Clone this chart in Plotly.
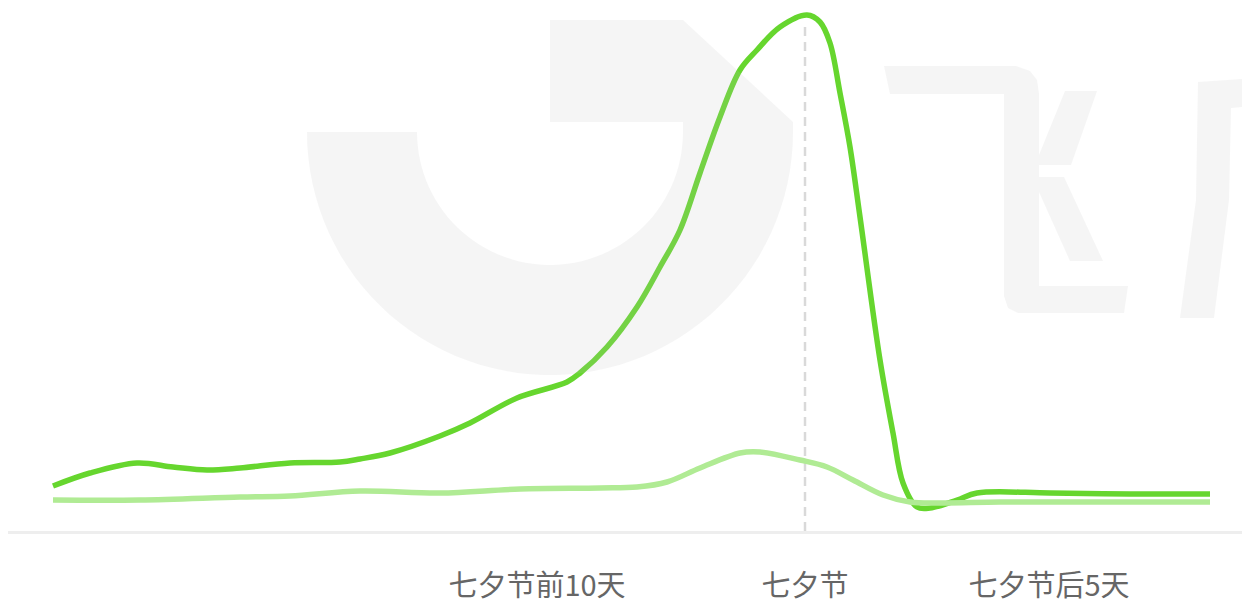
import numpy as np
import plotly.graph_objects as go

# ---- data (x: position along timeline, y: index value) ----
dark_x = [45, 82, 129, 165, 199, 232, 282, 332, 352, 382, 432, 462, 509, 559, 572, 599, 629, 652,
          672, 692, 712, 732, 749, 772, 799, 812, 822, 832, 842, 852, 872, 885, 895, 909, 922, 949,
          969, 1042, 1122, 1202]
dark_y = [45, 58, 68, 64, 61, 63, 68, 69, 72, 78, 95, 108, 133, 149, 158, 184, 224, 264,
          301, 358, 414, 461, 481, 504, 516, 509, 488, 438, 384, 314, 171, 98, 48, 24, 23, 31,
          38, 38, 37, 37]

light_x = [45, 132, 232, 282, 352, 432, 512, 592, 629, 659, 692, 732, 752, 792, 819, 845, 875,
           902, 932, 992, 1092, 1202]
light_y = [31, 31, 34, 35, 40, 38, 42, 43, 44, 49, 63, 78, 79, 71, 64, 51, 36,
           29, 28, 29, 29, 29]

tick_vals = [529, 797, 1041]
tick_text = ["七夕节前10天", "七夕节", "七夕节后5天"]
festival_x = 797

DARK = "#66d62e"
LIGHT = "#b0eb94"

fig = go.Figure()
fig.add_trace(go.Scatter(x=dark_x, y=dark_y, mode="lines",
                         line=dict(color=DARK, width=5.5, shape="spline", smoothing=1.0),
                         hoverinfo="skip", showlegend=False))
fig.add_trace(go.Scatter(x=light_x, y=light_y, mode="lines",
                         line=dict(color=LIGHT, width=5.5, shape="spline", smoothing=1.0),
                         hoverinfo="skip", showlegend=False))

# dashed festival marker
fig.add_shape(type="line", x0=festival_x, x1=festival_x, y0=0, y1=509, xref="x", yref="y",
              line=dict(color="#d9d9d9", width=2.5, dash="9px,6px"), layer="below")

# ---- watermark (decorative logo), in pixel-like coordinates ----
def P(xp, yp):
    return xp - 8, 531 - yp

def path_from(points):
    pts = [P(a, b) for a, b in points]
    return "M " + " L ".join(f"{a:.1f},{b:.1f}" for a, b in pts) + " Z"

WM = "rgba(190,190,190,0.16)"
cx, cy, ro, ri = 550, 132, 243, 133
ang = np.linspace(np.pi, 0, 60)
inner = [(cx + ri * np.cos(t), cy + ri * np.sin(t)) for t in ang]
outer = [(cx + ro * np.cos(t), cy + ro * np.sin(t)) for t in ang[::-1]]
ring = [(307, 132)] + inner + [(683, 122), (793, 122)] + outer
shapes_pts = [
    ring,
    [(550, 20), (683, 20), (793, 122), (550, 122)],
    [(884, 66), (1016, 66), (1030, 71), (1037, 80), (1039, 94), (1039, 286), (1128, 286),
     (1124, 313), (1018, 313), (1008, 308), (1004, 296), (1004, 94), (890, 94)],
    [(1065, 91), (1097, 91), (1071, 165), (1039, 165), (1039, 155)],
    [(1039, 177), (1064, 177), (1103, 261), (1070, 261), (1039, 192)],
    [(1198, 82), (1242, 79), (1242, 107), (1231, 108), (1229, 200), (1214, 318), (1180, 318),
     (1196, 200)],
]
for pts in shapes_pts:
    fig.add_shape(type="path", path=path_from(pts), xref="x", yref="y",
                  fillcolor=WM, line=dict(width=0), layer="above")

fig.update_layout(
    width=1242, height=600,
    margin=dict(l=8, r=0, t=10, b=69),
    paper_bgcolor="white", plot_bgcolor="white",
    font=dict(family="Noto Sans CJK SC, sans-serif", color="#666666"),
    xaxis=dict(range=[0, 1234], showgrid=False, zeroline=False, automargin=False,
               showline=True, linecolor="#eeeeee", linewidth=3,
               tickmode="array", tickvals=tick_vals, ticktext=tick_text,
               ticks="", tickfont=dict(size=29, color="#666666"), ticklabelstandoff=27),
    yaxis=dict(range=[0, 521], showgrid=False, zeroline=False, showline=False,
               showticklabels=False, automargin=False),
)

fig.write_html("out.html", config={"displayModeBar": False},
               post_script="document.body.style.margin='0';document.body.style.overflow='hidden';")
